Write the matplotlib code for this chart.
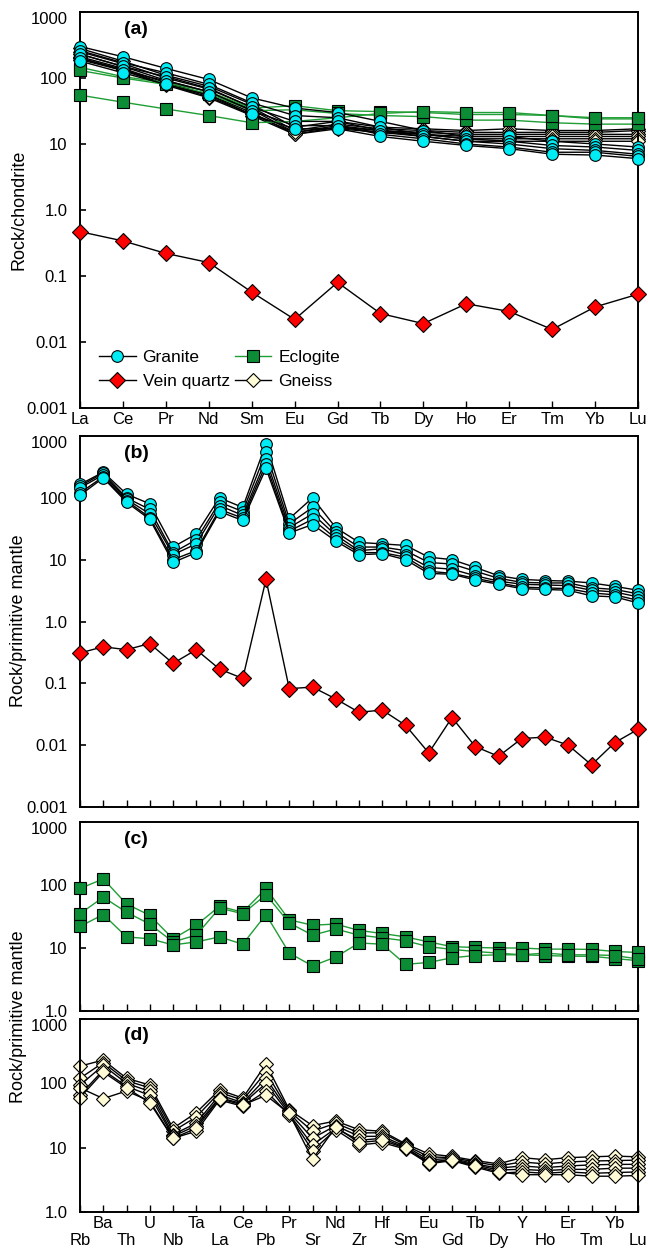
import matplotlib.pyplot as plt
import numpy as np
from matplotlib.ticker import NullLocator

plt.rcParams['font.family'] = ['Liberation Sans', 'DejaVu Sans']

# element order on the x axes
ree = ['La', 'Ce', 'Pr', 'Nd', 'Sm', 'Eu', 'Gd', 'Tb', 'Dy', 'Ho', 'Er', 'Tm', 'Yb', 'Lu']
spider = ['Rb', 'Ba', 'Th', 'U', 'Nb', 'Ta', 'La', 'Ce', 'Pb', 'Pr', 'Sr', 'Nd', 'Zr',
          'Hf', 'Sm', 'Eu', 'Gd', 'Tb', 'Dy', 'Y', 'Ho', 'Er', 'Tm', 'Yb', 'Lu']

# (a) chondrite-normalised REE
granite_ree = [
    [300, 210, 140, 95, 50, 35, 30, 22, 16, 13, 13, 11, 10, 9],
    [260, 170, 120, 80, 42, 27, 25, 18, 14, 12, 11, 9.5, 9, 8],
    [230, 150, 105, 70, 36, 22, 22, 16, 13, 11, 10, 8.5, 8, 7],
    [200, 130, 90, 62, 32, 19, 19, 14, 12, 10, 9, 7.5, 7.5, 6.5],
    [180, 120, 80, 55, 28, 17, 17, 13, 11, 9.5, 8.5, 7, 6.8, 6],
]
eclogite_ree = [
    [145, 105, 85, 62, 35, 38, 32, 31, 30, 28, 28, 27, 24, 24],
    [130, 100, 80, 58, 32, 33, 29, 27, 26, 23, 23, 21, 20, 20],
    [55, 43, 34, 27, 21, 22, 25, 29, 31, 30, 30, 27, 25, 25],
]
gneiss_ree = [
    [280, 180, 110, 75, 40, 18, 22, 18, 17, 16, 17, 16, 16, 17],
    [250, 165, 100, 68, 36, 16, 20, 17, 16, 15, 15, 15, 15, 16],
    [230, 150, 92, 62, 33, 15, 19, 16, 15, 14, 14, 14, 14, 14],
    [210, 140, 85, 56, 30, 14, 18, 16, 14, 13, 13, 13, 13, 13],
    [190, 130, 78, 50, 27, 14, 17, 15, 14, 12, 12, 12, 12, 12],
    [200, 135, 80, 52, 28, 15, 18, 15, 13, 11, 11, 11, 11, 11],
]
quartz_ree = [0.47, 0.34, 0.22, 0.16, 0.057, 0.022, 0.08, 0.027, 0.019, 0.038,
              0.029, 0.0155, 0.034, 0.053]

# (b)-(d) primitive-mantle-normalised trace elements
granite_pm = [
    [165, 260, 115, 80, 16, 26, 100, 70, 750, 46, 100, 33, 19, 18, 17, 11, 10, 7.5, 5.5, 4.8, 4.6, 4.5, 4.2, 3.7, 3.2],
    [155, 250, 100, 65, 13, 21, 85, 60, 550, 38, 70, 28, 16, 16, 14, 9, 8.5, 6.5, 5, 4.3, 4.2, 4.2, 3.5, 3.3, 2.8],
    [145, 235, 95, 55, 12, 18, 75, 52, 420, 33, 55, 25, 14, 15, 12, 7.5, 7, 5.5, 4.5, 4, 3.9, 3.8, 3.2, 3, 2.5],
    [120, 220, 90, 48, 10, 14, 65, 47, 350, 29, 45, 22, 13, 13, 11, 6.5, 6, 5, 4.2, 3.6, 3.5, 3.4, 2.9, 2.7, 2.2],
    [110, 210, 85, 45, 9, 13, 60, 43, 300, 27, 37, 20, 12, 12.5, 10, 6, 5.8, 4.7, 4, 3.4, 3.3, 3.2, 2.6, 2.5, 2.0],
]
quartz_pm = [0.31, 0.39, 0.35, 0.44, 0.21, 0.35, 0.17, 0.12, 4.8, 0.082, 0.087, 0.056, 0.034,
             0.037, 0.021, 0.0075, 0.028, 0.0095, 0.0066, 0.0128, 0.0135, 0.010, 0.0048, 0.011, 0.018]
eclogite_pm = [
    [88, 125, 50, 33, 14, 23, 46, 37, 88, 28, 23, 24, 19, 17, 15, 12.5, 10.5, 10.2, 10, 10, 9.6, 9.6, 9.5, 8.8, 8.5],
    [35, 64, 37, 24, 12.5, 16, 43, 35, 70, 25, 16, 20, 16, 14.5, 13, 10.5, 9.5, 8.8, 8.3, 7.8, 7.6, 7.4, 7.4, 6.8, 6.3],
    [22, 34, 15, 14, 11.2, 12.5, 15, 11.5, 34, 8.3, 5.2, 7.2, 12, 11.5, 5.5, 5.9, 7, 7.6, 7.8, 7.8, 8.3, 7.8, 7.8, 7.6, 6.7],
]
gneiss_pm = [
    [185, 230, 120, 94, 20, 35, 79, 59, 200, 39, 22, 26, 19, 18, 11.5, 8, 7.3, 6.3, 5.6, 7.0, 6.5, 7.0, 7.2, 7.4, 7.2],
    [120, 210, 110, 85, 18, 30, 72, 55, 150, 37, 18, 24, 17, 17, 11, 7.2, 7.0, 6.0, 5.2, 6.0, 5.6, 6.0, 6.2, 6.3, 6.4],
    [94, 190, 100, 75, 16, 24, 66, 50, 120, 35, 14, 22, 15, 15, 10.5, 6.5, 6.8, 5.6, 4.8, 5.2, 4.9, 5.2, 5.4, 5.5, 5.5],
    [66, 160, 90, 65, 15, 22, 60, 48, 100, 33, 11, 20, 13, 14, 10, 6.0, 6.5, 5.4, 4.5, 4.6, 4.4, 4.6, 4.6, 4.8, 4.8],
    [85, 58, 76, 53, 14, 18, 55, 44, 76, 32, 9, 19, 11, 12, 9.5, 5.6, 6.3, 5.0, 4.0, 4.2, 4.0, 4.2, 4.0, 4.1, 4.2],
    [60, 150, 85, 50, 14, 20, 58, 46, 65, 34, 6.6, 21, 12, 13, 9.8, 5.8, 6.4, 5.2, 4.2, 3.8, 3.8, 3.8, 3.6, 3.6, 3.7],
]

W, H = 648, 1248
green_line = '#1f9e35'
styles = {
    'granite': dict(color='black', marker='o', mfc='#00ecf5', ms=8.4),
    'eclogite': dict(color=green_line, marker='s', mfc='#0b8c35', ms=8.0),
    'gneiss': dict(color='black', marker='D', mfc='#fffbd6', ms=7.4),
    'quartz': dict(color='black', marker='D', mfc='#ff0000', ms=8.4),
}


def px_axes(fig, left, top, right, bottom):
    return fig.add_axes([left / W, 1 - bottom / H, (right - left) / W, (bottom - top) / H])


def draw(ax, rows, kind, label=None, z=2):
    st = styles[kind]
    for i, row in enumerate(rows):
        ax.plot(np.arange(len(row)), row, color=st['color'], lw=1.0, marker=st['marker'],
                mfc=st['mfc'], mec='black', mew=0.8, ms=st['ms'], clip_on=False, zorder=z,
                label=label if i == 0 else None)


def style_axes(ax, n, ymin, tag):
    ax.set_yscale('log')
    ax.set_ylim(ymin, 1000)
    ax.set_xlim(0, n - 1)
    ticks = [v for v in [0.001, 0.01, 0.1, 1, 10, 100, 1000] if v >= ymin]
    names = {0.001: '0.001', 0.01: '0.01', 0.1: '0.1', 1: '1.0', 10: '10', 100: '100', 1000: '1000'}
    ax.set_yticks(ticks, [names[t] for t in ticks])
    ax.yaxis.set_minor_locator(NullLocator())
    ax.tick_params(axis='y', direction='in', length=4, width=1.2, pad=9, labelsize=12)
    ax.tick_params(axis='x', which='both', direction='in', length=5, width=1.0, labelsize=12)
    ax.get_yticklabels()[-1].set_va('top')
    for s in ax.spines.values():
        s.set_linewidth(1.4)
    ax.annotate(tag, xy=(0, 1), xycoords='axes fraction', xytext=(44, -17),
                textcoords='offset pixels', fontsize=14, fontweight='bold', va='center')


fig = plt.figure(figsize=(W / 100, H / 100), dpi=100)

# (a)
ax = px_axes(fig, 80, 12, 638, 408)
draw(ax, gneiss_ree, 'gneiss', 'Gneiss', z=2)
draw(ax, eclogite_ree, 'eclogite', 'Eclogite', z=3)
draw(ax, granite_ree, 'granite', 'Granite', z=4)
draw(ax, [quartz_ree], 'quartz', 'Vein quartz', z=5)
style_axes(ax, len(ree), 0.001, '(a)')
ax.set_xticks(range(len(ree)), ree)
ax.tick_params(axis='x', pad=3)
h, l = ax.get_legend_handles_labels()
order = [l.index(k) for k in ['Granite', 'Vein quartz', 'Eclogite', 'Gneiss']]
ax.legend([h[i] for i in order], [l[i] for i in order], ncol=2, loc='lower left',
          bbox_to_anchor=(0.022, 0.03), frameon=False, fontsize=12.5, handlelength=2.1,
          handletextpad=0.4, columnspacing=0.3, labelspacing=0.5, borderaxespad=0)

# (b)
ax = px_axes(fig, 80, 436, 638, 807)
draw(ax, granite_pm, 'granite', z=4)
draw(ax, [quartz_pm], 'quartz', z=5)
style_axes(ax, len(spider), 0.001, '(b)')
ax.set_xticks(range(len(spider)), [''] * len(spider))

# (c)
ax = px_axes(fig, 80, 822, 638, 1011)
draw(ax, eclogite_pm, 'eclogite', z=3)
style_axes(ax, len(spider), 1, '(c)')
ax.set_xticks(range(len(spider)), [''] * len(spider))

# (d)
ax = px_axes(fig, 80, 1019, 638, 1212)
draw(ax, gneiss_pm, 'gneiss', z=2)
style_axes(ax, len(spider), 1, '(d)')
even = list(range(0, len(spider), 2))
odd = list(range(1, len(spider), 2))
ax.set_xticks(even, [spider[i] for i in even])
ax.set_xticks(odd, [spider[i] for i in odd], minor=True)
ax.tick_params(axis='x', which='major', pad=15)
ax.tick_params(axis='x', which='minor', pad=3)

# y-axis titles
for text, yc in [('Rock/chondrite', 210), ('Rock/primitive mantle', 621),
                 ('Rock/primitive mantle', 1017)]:
    fig.text(19 / W, 1 - yc / H, text, rotation=90, fontsize=13, ha='center', va='center')

fig.savefig('out.png', dpi=100)
